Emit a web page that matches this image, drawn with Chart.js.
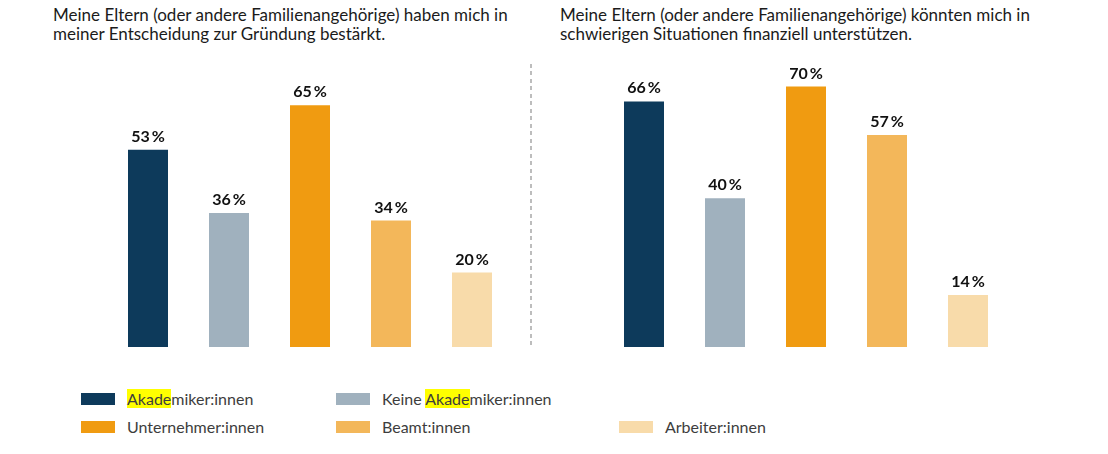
<!DOCTYPE html>
<html>
<head>
<meta charset="utf-8">
<script src="https://cdn.jsdelivr.net/npm/chart.js@4/dist/chart.umd.min.js"></script>
<style>
  html, body { margin: 0; padding: 0; background: #fff; }
  body { width: 1108px; height: 454px; position: relative; overflow: hidden; font-family: Lato, "Open Sans", sans-serif; }
  .title { position: absolute; top: 5px; font-size: 17px; line-height: 19px; color: #1b1b1b; white-space: nowrap; }
  .wrap { position: absolute; }
  .sep { position: absolute; left: 530px; top: 64px; width: 2px; height: 284px;
         background: repeating-linear-gradient(to bottom, #bdbdbd 0 4px, transparent 4px 7.5px); }
  .leg { position: absolute; font-size: 16px; line-height: 18px; color: #3d3d3d; white-space: nowrap; }
  .sw { position: absolute; width: 34px; height: 12px; }
  .hl { background: #ffff00; }
</style>
</head>
<body>
<div class="title" style="left:53px">Meine Eltern (oder andere Familienangehörige) haben mich in<br>meiner Entscheidung zur Gründung bestärkt.</div>
<div class="title" style="left:560px">Meine Eltern (oder andere Familienangehörige) könnten mich in<br>schwierigen Situationen finanziell unterstützen.</div>
<div class="wrap" style="left:0;top:40px;width:540px;height:320px"><canvas id="c1"></canvas></div>
<div class="wrap" style="left:560px;top:40px;width:548px;height:320px"><canvas id="c2"></canvas></div>
<div class="sep"></div>
<div id="legend"></div>
<script>
const categories = ["Akademiker:innen", "Keine Akademiker:innen", "Unternehmer:innen", "Beamt:innen", "Arbeiter:innen"];
const valuesBestaerkt = [53, 36, 65, 34, 20];
const valuesFinanziell = [66, 40, 70, 57, 14];
const colors = ["#0d3a5b", "#a0b1be", "#f09b11", "#f3b75a", "#f8dbaa"];

const labelPlugin = {
  id: 'valLabels',
  afterDatasetsDraw(chart) {
    const ctx = chart.ctx;
    const meta = chart.getDatasetMeta(0);
    const data = chart.data.datasets[0].data;
    ctx.save();
    ctx.font = 'bold 16px Lato, sans-serif';
    ctx.fillStyle = '#111';
    ctx.textAlign = 'center';
    ctx.textBaseline = 'alphabetic';
    meta.data.forEach((bar, i) => {
      ctx.fillText(data[i] + '\u2009%', bar.x, bar.y - 8);
    });
    ctx.restore();
  }
};

function makeChart(id, values, padL, padR) {
  new Chart(document.getElementById(id), {
    type: 'bar',
    data: { labels: categories, datasets: [{ data: values, backgroundColor: colors, borderWidth: 0,
      categoryPercentage: 1, barPercentage: 40 / 81 }] },
    options: {
      responsive: true, maintainAspectRatio: false, animation: false,
      layout: { padding: { left: padL, right: padR, top: 9.4, bottom: 13 } },
      plugins: { legend: { display: false }, tooltip: { enabled: false } },
      scales: {
        x: { display: false },
        y: { display: false, min: 0, max: 80 }
      }
    },
    plugins: [labelPlugin]
  });
}
makeChart('c1', valuesBestaerkt, 107.5, 27.5);
makeChart('c2', valuesFinanziell, 43.5, 99.5);

// Legend
const legPos = [[81, 393], [336, 393], [81, 421], [336, 421], [619, 421]];
const leg = document.getElementById('legend');
categories.forEach((name, i) => {
  const [x, y] = legPos[i];
  const sw = document.createElement('div');
  sw.className = 'sw';
  sw.style.left = x + 'px'; sw.style.top = y + 'px'; sw.style.background = colors[i];
  leg.appendChild(sw);
  const t = document.createElement('div');
  t.className = 'leg';
  t.style.left = (x + 46) + 'px'; t.style.top = (y - 3) + 'px';
  const idx = name.indexOf('Akade');
  if (idx >= 0) {
    t.innerHTML = name.slice(0, idx) + '<span class="hl">Akade</span>' + name.slice(idx + 5);
  } else {
    t.textContent = name;
  }
  leg.appendChild(t);
});
</script>
</body>
</html>
